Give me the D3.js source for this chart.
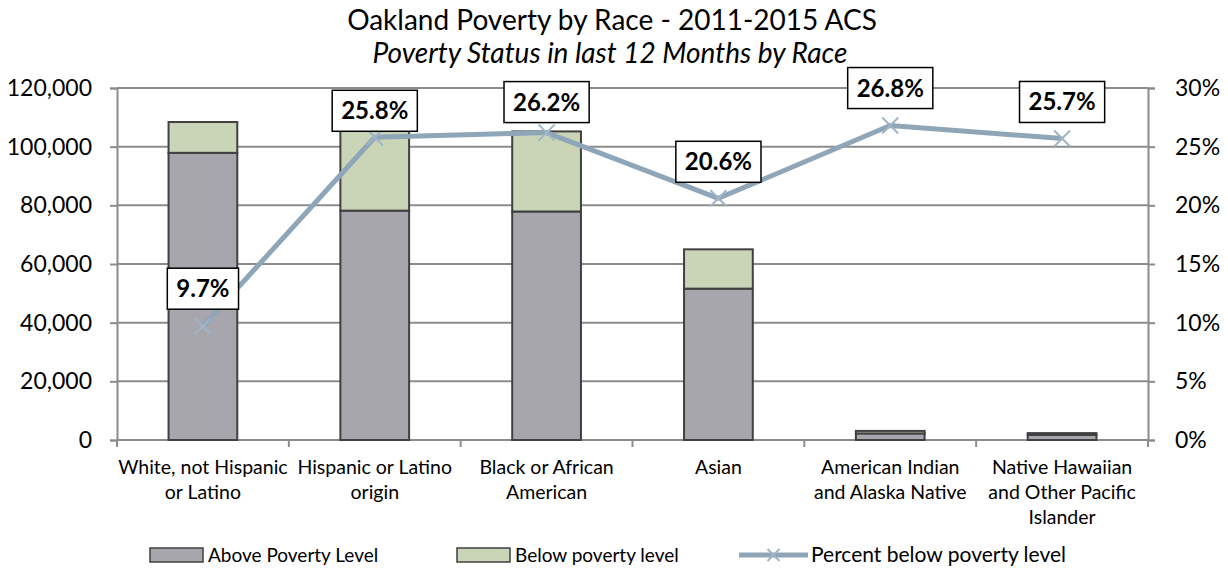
<!DOCTYPE html>
<html>
<head>
<meta charset="utf-8">
<script src="https://cdn.jsdelivr.net/npm/d3@7"></script>
<style>
  html, body { margin: 0; padding: 0; background: #fff; }
  svg { display: block; font-family: Lato, "Open Sans", sans-serif; }
</style>
</head>
<body>
<div id="chart"></div>
<script>
// Data
const categories = [
    ["White, not Hispanic", "or Latino"],
    ["Hispanic or Latino", "origin"],
    ["Black or African", "American"],
    ["Asian"],
    ["American Indian", "and Alaska Native"],
    ["Native Hawaiian", "and Other Pacific", "Islander"]
];
const abovePoverty = [97900, 78200, 77900, 51600, 2250, 1750];
const belowPoverty = [10500, 27200, 27300, 13400, 850, 600];
const pctBelow = [9.7, 25.8, 26.2, 20.6, 26.8, 25.7];
const leftTicks = [0, 20000, 40000, 60000, 80000, 100000, 120000];
const rightTicks = [0, 5, 10, 15, 20, 25, 30];

// gap between label box bottom and its point (labels were nudged in the original)
const labelGap = [17, 6, 10, 16, 17, 16];

const W = 1228, H = 583;
const margin = {top: 88, right: 80, bottom: 143, left: 117};
const width = W - margin.left - margin.right,
      height = H - margin.top - margin.bottom;

const colAbove = "#a7a6ac", colBelow = "#cad5b8", colLine = "#8fa6b8",
      colGrid = "#8c8c8c", colEdge = "#404040";

const svg = d3.select("#chart").append("svg")
    .attr("width", W)
    .attr("height", H);

// titles
svg.append("text")
    .attr("x", 612).attr("y", 30)
    .attr("text-anchor", "middle")
    .style("font-size", "28px")
    .text("Oakland Poverty by Race - 2011-2015 ACS");
svg.append("text")
    .attr("x", 610).attr("y", 63)
    .attr("text-anchor", "middle")
    .style("font-size", "28px")
    .style("font-style", "italic")
    .text("Poverty Status in last 12 Months by Race");

const g = svg.append("g")
    .attr("transform", `translate(${margin.left},${margin.top})`);

const idx = d3.range(categories.length);
const x = d3.scaleBand()
    .domain(idx)
    .range([0, width])
    .paddingInner(0.6)
    .paddingOuter(0.3);
const xOuter = d3.scaleBand().domain(idx).range([0, width]);

const y = d3.scaleLinear().domain([0, 120000]).range([height, 0]);
const y2 = d3.scaleLinear().domain([0, 30]).range([height, 0]);

// gridlines
g.append("g")
    .selectAll("line")
    .data(leftTicks)
    .join("line")
    .attr("x1", 0).attr("x2", width)
    .attr("y1", d => y(d)).attr("y2", d => y(d))
    .attr("stroke", colGrid)
    .attr("stroke-width", 2);

// left axis
const yAxis = g.append("g")
    .call(d3.axisLeft(y).tickValues(leftTicks).tickSize(7).tickPadding(18)
        .tickFormat(d3.format(",")));
// right axis
const y2Axis = g.append("g")
    .attr("transform", `translate(${width},0)`)
    .call(d3.axisRight(y2).tickValues(rightTicks).tickSize(7).tickPadding(20)
        .tickFormat(d => d + "%"));
[yAxis, y2Axis].forEach(a => {
    a.select(".domain").attr("stroke", colGrid).attr("stroke-width", 2);
    a.selectAll(".tick line").attr("stroke", colGrid).attr("stroke-width", 2);
    a.selectAll(".tick text")
        .attr("fill", "#000")
        .style("font-size", "23px")
        .style("font-family", "Lato, sans-serif");
});

// category axis ticks
g.append("g")
    .selectAll("line")
    .data(d3.range(categories.length + 1))
    .join("line")
    .attr("x1", d => d * xOuter.step()).attr("x2", d => d * xOuter.step())
    .attr("y1", height).attr("y2", height + 7)
    .attr("stroke", colGrid)
    .attr("stroke-width", 2);

// category labels
const catLabels = g.append("g")
    .selectAll("text")
    .data(idx)
    .join("text")
    .attr("text-anchor", "middle")
    .attr("transform", i => `translate(${xOuter(i) + xOuter.bandwidth() / 2},${height + 34})`)
    .style("font-size", "19.5px");
catLabels.selectAll("tspan")
    .data(i => categories[i])
    .join("tspan")
    .attr("x", 0)
    .attr("dy", (d, j) => j === 0 ? 0 : 25)
    .text(d => d);

// stacked bars
const stackData = idx.map(i => ({i, above: abovePoverty[i], below: belowPoverty[i]}));
const series = d3.stack().keys(["above", "below"])(stackData);
const fills = {above: colAbove, below: colBelow};

g.append("g")
    .selectAll("g")
    .data(series)
    .join("g")
    .attr("fill", s => fills[s.key])
    .selectAll("rect")
    .data(s => s)
    .join("rect")
    .attr("x", d => x(d.data.i))
    .attr("width", x.bandwidth())
    .attr("y", d => y(d[1]))
    .attr("height", d => y(d[0]) - y(d[1]))
    .attr("stroke", colEdge)
    .attr("stroke-width", 2);

// percent line
const cx = i => xOuter(i) + xOuter.bandwidth() / 2;
const line = d3.line()
    .x((d, i) => cx(i))
    .y(d => y2(d));

g.append("path")
    .datum(pctBelow)
    .attr("d", line)
    .attr("fill", "none")
    .attr("stroke", colLine)
    .attr("stroke-width", 5)
    .attr("stroke-linejoin", "round");

const m = 8;
g.append("g")
    .selectAll("path")
    .data(pctBelow)
    .join("path")
    .attr("d", (d, i) => {
        const px = cx(i), py = y2(d);
        return `M${px - m},${py - m}L${px + m},${py + m}M${px - m},${py + m}L${px + m},${py - m}`;
    })
    .attr("stroke", "#9fb5c7")
    .attr("stroke-width", 2)
    .attr("fill", "none");

// data labels
const labels = g.append("g")
    .selectAll("g")
    .data(pctBelow)
    .join("g")
    .attr("transform", (d, i) => `translate(${cx(i)},${y2(d) - labelGap[i]})`);
labels.each(function(d) {
    const lg = d3.select(this);
    const t = lg.append("text")
        .attr("text-anchor", "middle")
        .attr("y", -12)
        .style("font-size", "24px")
        .style("font-weight", "bold")
        .text(d.toFixed(1) + "%");
    const w = t.node().getComputedTextLength() + 18;
    lg.insert("rect", "text")
        .attr("x", -w / 2).attr("y", -41)
        .attr("width", w).attr("height", 41)
        .attr("fill", "#fff")
        .attr("stroke", "#000")
        .attr("stroke-width", 1.5);
});

// legend
const legend = svg.append("g").attr("transform", "translate(0,555)");
const legendItems = [
    {label: "Above Poverty Level", x: 150, type: "rect", fill: colAbove},
    {label: "Below poverty level", x: 457, type: "rect", fill: colBelow},
    {label: "Percent below poverty level", x: 739, type: "line"}
];
legendItems.forEach(it => {
    const lg = legend.append("g").attr("transform", `translate(${it.x},0)`);
    if (it.type === "rect") {
        lg.append("rect")
            .attr("x", 0).attr("y", -7)
            .attr("width", 53).attr("height", 14)
            .attr("fill", it.fill)
            .attr("stroke", colEdge)
            .attr("stroke-width", 1.5);
        lg.append("text")
            .attr("x", 58).attr("y", 7)
            .style("font-size", "19px")
            .text(it.label);
    } else {
        lg.append("line")
            .attr("x1", 0).attr("x2", 69)
            .attr("stroke", colLine).attr("stroke-width", 5);
        lg.append("path")
            .attr("d", `M${34.5 - 6},-6L${34.5 + 6},6M${34.5 - 6},6L${34.5 + 6},-6`)
            .attr("stroke", "#9fb5c7").attr("stroke-width", 2);
        lg.append("text")
            .attr("x", 72).attr("y", 7)
            .style("font-size", "21px")
            .text(it.label);
    }
});
</script>
</body>
</html>
